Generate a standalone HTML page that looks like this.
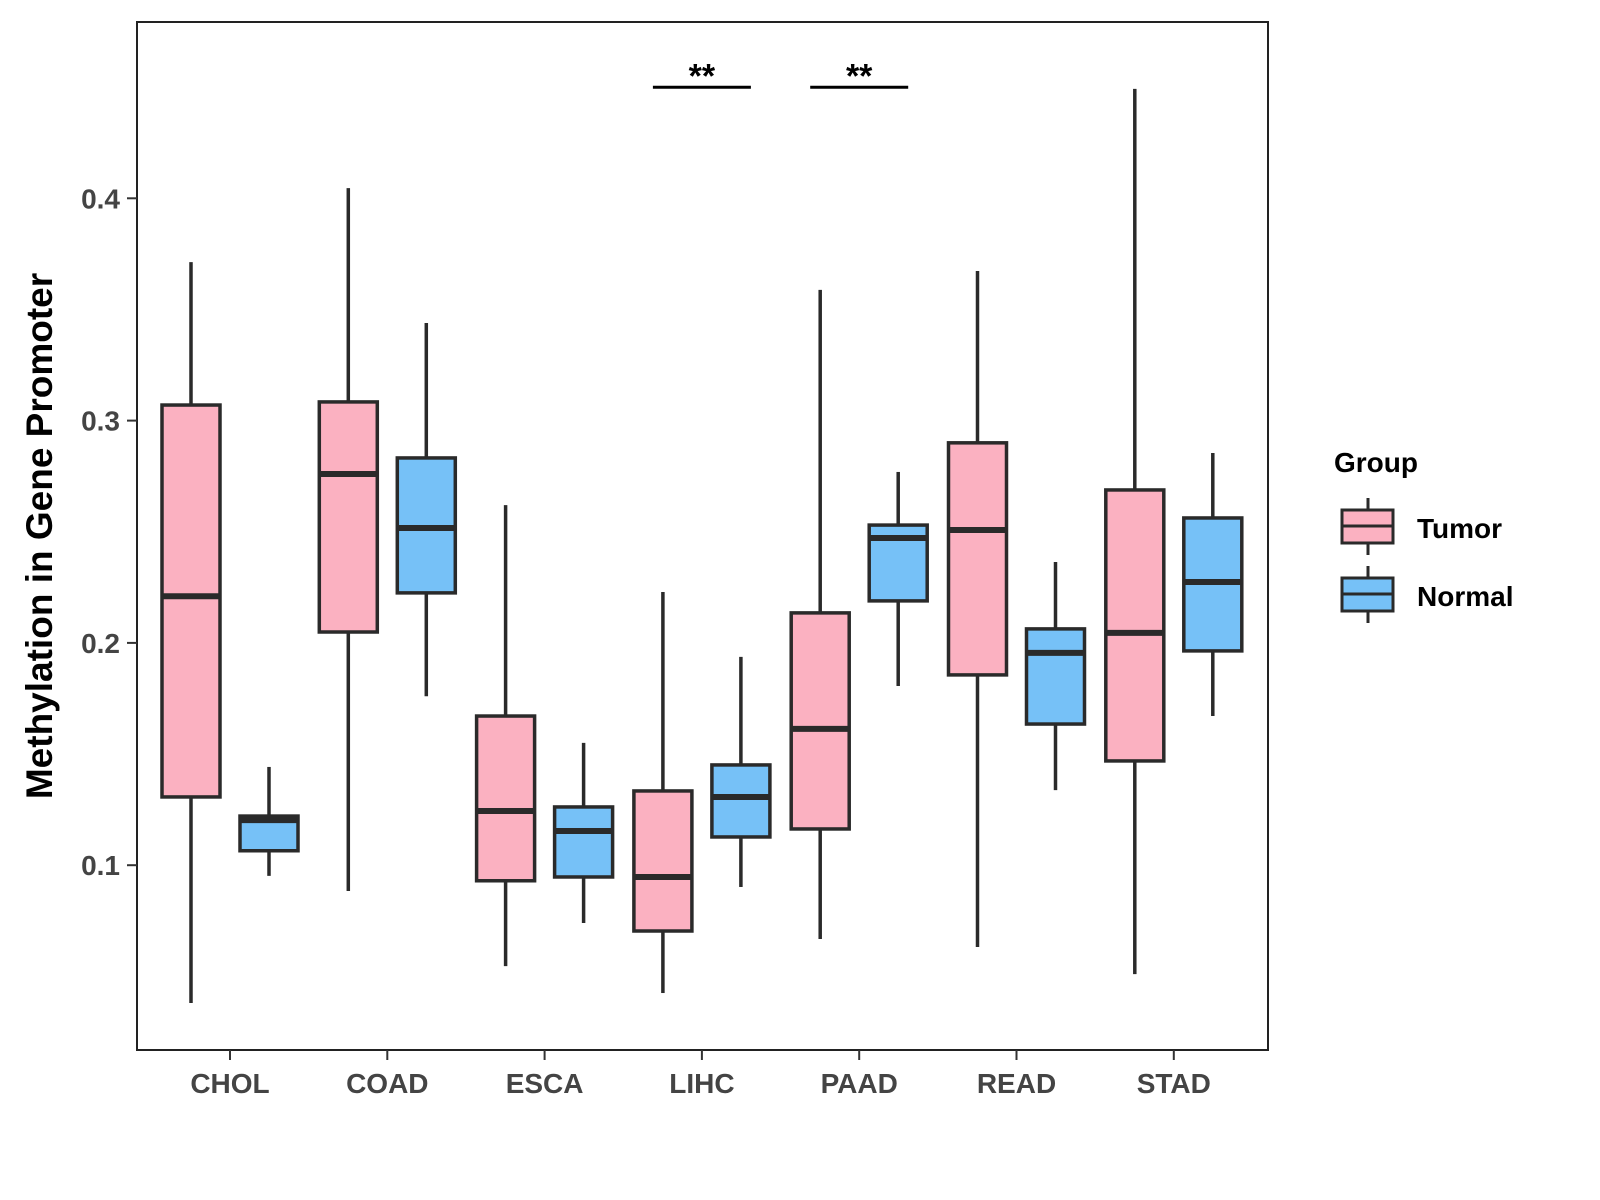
<!DOCTYPE html>
<html><head><meta charset="utf-8"><style>
html,body{margin:0;padding:0;background:#fff;}
svg{display:block;font-family:"Liberation Sans",Arial,sans-serif;}
</style></head><body>
<svg id="chart" width="1600" height="1200" viewBox="0 0 1600 1200">
<rect x="137" y="22" width="1131" height="1028" fill="#fff" stroke="#222" stroke-width="2"/>
<g id="boxes"></g>
<g id="axes"></g>
<text x="0" y="0" transform="translate(52,536) rotate(-90)" text-anchor="middle" font-size="37" font-weight="bold" fill="#000">Methylation in Gene Promoter</text>
<g>
<text x="1334" y="472" font-size="28" font-weight="bold" fill="#000">Group</text>
<g>
<line x1="1368" y1="498" x2="1368" y2="555" stroke="#2a2a2a" stroke-width="3"/>
<rect x="1342" y="510" width="51" height="33" fill="#FBB1C1" stroke="#2a2a2a" stroke-width="3"/>
<line x1="1342" y1="526" x2="1393" y2="526" stroke="#2a2a2a" stroke-width="3"/>
<text x="1417" y="538" font-size="28" font-weight="bold" fill="#000">Tumor</text>
</g>
<g>
<line x1="1368" y1="566" x2="1368" y2="623" stroke="#2a2a2a" stroke-width="3"/>
<rect x="1342" y="578" width="51" height="33" fill="#76C1F7" stroke="#2a2a2a" stroke-width="3"/>
<line x1="1342" y1="594" x2="1393" y2="594" stroke="#2a2a2a" stroke-width="3"/>
<text x="1417" y="606" font-size="28" font-weight="bold" fill="#000">Normal</text>
</g>
</g>
</svg>
<script>
const categories = ["CHOL","COAD","ESCA","LIHC","PAAD","READ","STAD"];
const groups = ["Tumor","Normal"];
const tumorMin = [0.038,0.0884,0.0546,0.0425,0.0668,0.0632,0.051];
const tumorQ1 = [0.1307,0.2049,0.093,0.0704,0.1163,0.1856,0.1469];
const tumorMed = [0.221,0.276,0.1244,0.0947,0.1613,0.2508,0.2045];
const tumorQ3 = [0.307,0.3084,0.1671,0.1334,0.2135,0.29,0.2688];
const tumorMax = [0.3713,0.4046,0.262,0.2229,0.3588,0.3673,0.4492];
const normalMin = [0.0952,0.176,0.074,0.0902,0.1806,0.1338,0.1671];
const normalQ1 = [0.1065,0.2225,0.0947,0.1127,0.2189,0.1635,0.1964];
const normalMed = [0.1203,0.2517,0.1154,0.1307,0.2472,0.1955,0.2274];
const normalQ3 = [0.1221,0.2832,0.1262,0.1451,0.253,0.2063,0.2562];
const normalMax = [0.1442,0.3439,0.155,0.1937,0.2769,0.2364,0.2854];
const yTicks = [0.1,0.2,0.3,0.4];
const sigCategories = ["LIHC","PAAD"];
const sigLabels = ["**","**"];
const sigValue = 0.4495;

const NS="http://www.w3.org/2000/svg";
const yScale = v => 1087.5 - v*2223;
const xScale = i => 230 + i*157.3;
const colors = {Tumor:"#FBB1C1", Normal:"#76C1F7"};
const boxG = document.getElementById('boxes');
const axG = document.getElementById('axes');
function mk(tag, attrs, parent){const e=document.createElementNS(NS,tag);for(const k in attrs)e.setAttribute(k,attrs[k]);parent.appendChild(e);return e;}
const series = {Tumor:[tumorMin,tumorQ1,tumorMed,tumorQ3,tumorMax], Normal:[normalMin,normalQ1,normalMed,normalQ3,normalMax]};
categories.forEach((c,i)=>{
  groups.forEach((gname,gi)=>{
    const s=series[gname].map(a=>a[i]);
    const cx=xScale(i)+(gi?39:-39); const w=58;
    const grp=mk('g',{},boxG);
    
    
    mk('line',{x1:cx,x2:cx,y1:yScale(s[4]),y2:yScale(s[3]),stroke:'#2a2a2a','stroke-width':3.5},grp);
    mk('line',{x1:cx,x2:cx,y1:yScale(s[1]),y2:yScale(s[0]),stroke:'#2a2a2a','stroke-width':3.5},grp);
    mk('rect',{x:cx-w/2,y:yScale(s[3]),width:w,height:yScale(s[1])-yScale(s[3]),fill:colors[gname],stroke:'#2a2a2a','stroke-width':3.5},grp);
    mk('line',{x1:cx-w/2,x2:cx+w/2,y1:yScale(s[2]),y2:yScale(s[2]),stroke:'#2a2a2a','stroke-width':6},grp);
  });
  mk('line',{x1:xScale(i),x2:xScale(i),y1:1050,y2:1060,stroke:'#333','stroke-width':2},axG);
  const t=mk('text',{x:xScale(i),y:1093,'text-anchor':'middle','font-size':28,'font-weight':'bold',fill:'#444'},axG);
  
  
  t.textContent=c;
});
yTicks.forEach(v=>{
  mk('line',{x1:127,x2:137,y1:yScale(v),y2:yScale(v),stroke:'#333','stroke-width':2},axG);
  const t=mk('text',{x:120,y:yScale(v)+10,'text-anchor':'end','font-size':28,'font-weight':'bold',fill:'#444'},axG);
  
  
  t.textContent=v.toFixed(1);
});
sigCategories.forEach((c,k)=>{
  const i=categories.indexOf(c);
  const sg=mk('g',{},boxG);
  
  
  mk('line',{x1:xScale(i)-49,x2:xScale(i)+49,y1:yScale(sigValue)-1,y2:yScale(sigValue)-1,stroke:'#000','stroke-width':3},sg);
  const t=mk('text',{x:xScale(i),y:yScale(sigValue)-1,'text-anchor':'middle','font-size':34,'font-weight':'bold',fill:'#000'},sg);
  t.textContent=sigLabels[k];
});
</script>
</body></html>
